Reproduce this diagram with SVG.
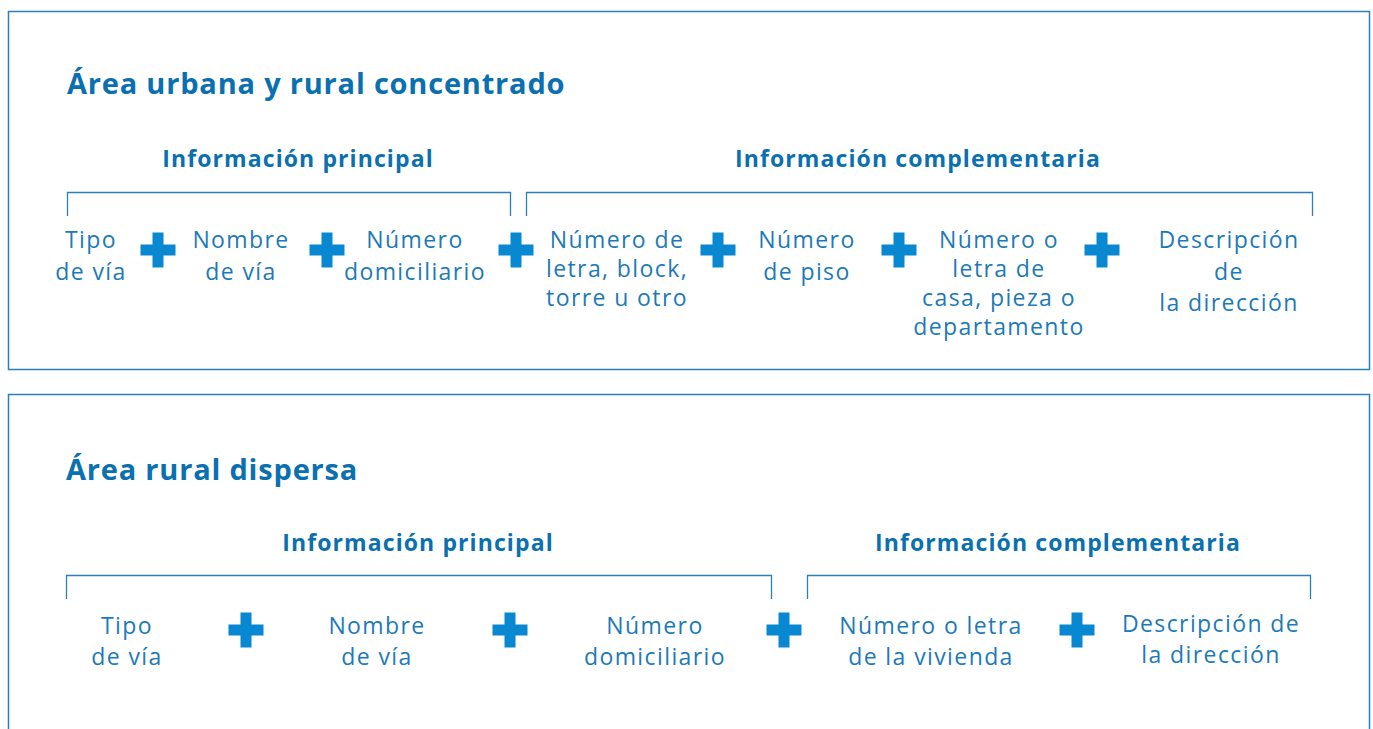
<svg xmlns="http://www.w3.org/2000/svg" width="1373" height="729" viewBox="0 0 1373 729">
<defs>
<style>
.frame{fill:none;stroke:#2b80b9;stroke-width:1.5}
.br{fill:none;stroke:#2b80b9;stroke-width:1.3}
.title{font-family:"Open Sans","Noto Sans",sans-serif;font-weight:700;font-size:29px;fill:#0a70b0;letter-spacing:0.8px}
.sub{font-family:"Open Sans","Noto Sans",sans-serif;font-weight:700;font-size:23px;fill:#0a70b0;text-anchor:middle;letter-spacing:1.1px}
.t{font-family:"Open Sans","Noto Sans",sans-serif;font-weight:400;font-size:23px;fill:#1d7ab8;text-anchor:middle;letter-spacing:1.4px}
.plus{fill:#0788d0}
</style>
<path id="p" d="M-5.5,-17.5h11v12h12v11h-12v12h-11v-12h-12v-11h12z"/>
</defs>
<rect x="0" y="0" width="1373" height="729" fill="#fff"/>
<g id="panel-urbano">
<rect class="frame" x="8.5" y="11.5" width="1361" height="358"/>
<text class="title" x="67" y="94">Área urbana y rural concentrado</text>
<text class="sub" x="298" y="167">Información principal</text>
<text class="sub" x="918" y="167">Información complementaria</text>
</g>
<g id="connectors">
<path class="br" d="M67.5,216V192.5H510.5V216"/>
<path class="br" d="M526.5,216V192.5H1312.5V216"/>
<path class="br" d="M66.5,599V575.5H771.5V599"/>
<path class="br" d="M807.5,599V575.5H1310.5V599"/>
</g>
<g id="n1-tipo"><text class="t" x="91" y="248">Tipo</text><text class="t" x="91" y="280">de vía</text></g>
<g id="plus1"><use href="#p" class="plus" x="158" y="250"/></g>
<g id="n1-nombre"><text class="t" x="241" y="248">Nombre</text><text class="t" x="241" y="280">de vía</text></g>
<g id="plus2"><use href="#p" class="plus" x="327" y="250"/></g>
<g id="n1-numero"><text class="t" x="415" y="248">Número</text><text class="t" x="415" y="280">domiciliario</text></g>
<g id="plus3"><use href="#p" class="plus" x="516" y="250"/></g>
<g id="n1-letra"><text class="t" x="617" y="248">Número de</text><text class="t" x="617" y="277">letra, block,</text><text class="t" x="617" y="306">torre u otro</text></g>
<g id="plus4"><use href="#p" class="plus" x="718" y="250"/></g>
<g id="n1-piso"><text class="t" x="807" y="248">Número</text><text class="t" x="807" y="280">de piso</text></g>
<g id="plus5"><use href="#p" class="plus" x="899" y="250"/></g>
<g id="n1-casa"><text class="t" x="999" y="248">Número o</text><text class="t" x="999" y="277">letra de</text><text class="t" x="999" y="306">casa, pieza o</text><text class="t" x="999" y="335">departamento</text></g>
<g id="plus6"><use href="#p" class="plus" x="1102" y="250"/></g>
<g id="n1-desc"><text class="t" x="1229" y="248">Descripción</text><text class="t" x="1229" y="280">de</text><text class="t" x="1229" y="311">la dirección</text></g>
<g id="panel-rural">
<rect class="frame" x="8.5" y="394.5" width="1361" height="345"/>
<text class="title" x="66" y="480">Área rural dispersa</text>
<text class="sub" x="418" y="551">Información principal</text>
<text class="sub" x="1058" y="551">Información complementaria</text>
</g>
<g id="n2-tipo"><text class="t" x="127" y="634">Tipo</text><text class="t" x="127" y="665">de vía</text></g>
<g id="plus7"><use href="#p" class="plus" x="246" y="630"/></g>
<g id="n2-nombre"><text class="t" x="377" y="634">Nombre</text><text class="t" x="377" y="665">de vía</text></g>
<g id="plus8"><use href="#p" class="plus" x="510" y="630"/></g>
<g id="n2-numero"><text class="t" x="655" y="634">Número</text><text class="t" x="655" y="665">domiciliario</text></g>
<g id="plus9"><use href="#p" class="plus" x="784" y="630"/></g>
<g id="n2-vivienda"><text class="t" x="931" y="634">Número o letra</text><text class="t" x="931" y="665">de la vivienda</text></g>
<g id="plus10"><use href="#p" class="plus" x="1077" y="630"/></g>
<g id="n2-desc"><text class="t" x="1211" y="632">Descripción de</text><text class="t" x="1211" y="663">la dirección</text></g>
</svg>
